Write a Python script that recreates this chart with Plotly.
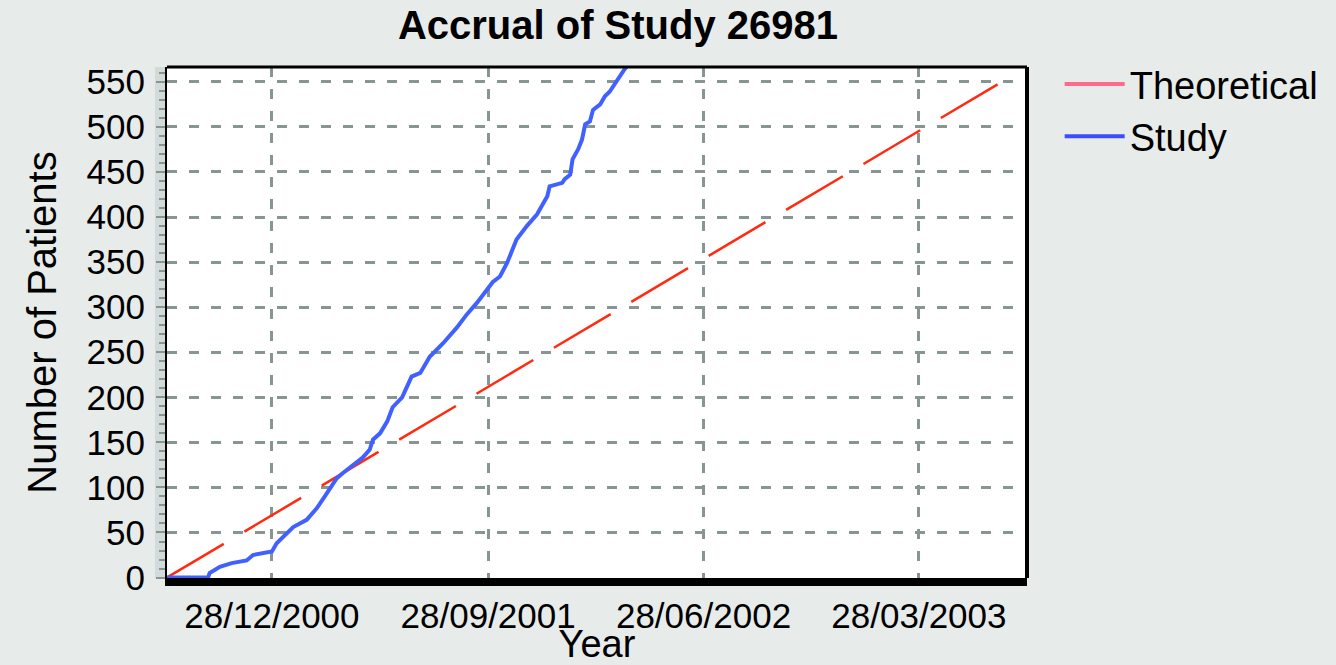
import plotly.graph_objects as go

# ---- data ----
theo_dates = ["2000-08-17", "2003-07-11"]
theo_values = [0, 550]

study_dates = [
    "2000-08-17", "2000-10-08", "2000-10-10", "2000-10-23", "2000-11-07", "2000-11-26",
    "2000-12-04", "2000-12-23", "2000-12-28", "2001-01-03", "2001-01-16", "2001-01-24",
    "2001-02-10", "2001-02-23", "2001-03-05", "2001-03-12", "2001-03-20", "2001-03-28",
    "2001-04-10", "2001-04-22", "2001-05-01", "2001-05-05", "2001-05-14", "2001-05-23",
    "2001-05-30", "2001-06-11", "2001-06-23", "2001-07-04", "2001-07-16", "2001-08-02",
    "2001-08-19", "2001-09-01", "2001-09-14", "2001-09-26", "2001-10-04", "2001-10-13",
    "2001-10-22", "2001-11-03", "2001-11-16", "2001-11-29", "2001-12-05", "2001-12-12",
    "2001-12-15", "2001-12-31", "2002-01-03", "2002-01-10", "2002-01-13", "2002-01-20",
    "2002-01-25", "2002-01-29", "2002-02-04", "2002-02-08", "2002-02-17", "2002-02-23",
    "2002-03-01", "2002-03-08", "2002-03-14", "2002-03-20", "2002-03-27",
]
study_values = [
    0, 0, 5, 12, 16, 19,
    25, 28, 29, 38, 49, 56,
    64, 77, 90, 100, 110, 116,
    125, 133, 142, 153, 160, 173,
    189, 200, 223, 227, 245, 260,
    277, 292, 305, 319, 328, 334,
    349, 375, 390, 403, 412, 423,
    434, 438, 442, 447, 464, 475,
    486, 503, 506, 519, 525, 534,
    539, 549, 556, 564, 572,
]

tick_dates = ["2000-12-28", "2001-09-28", "2002-06-28", "2003-03-28"]
tick_labels = ["28/12/2000", "28/09/2001", "28/06/2002", "28/03/2003"]
y_ticks = list(range(0, 551, 50))

# ---- style ----
FONT = "Liberation Sans, Arial, sans-serif"
BG = "#e7ebea"
GRID = "#879593"
RED = "#ff2a10"
BLUE = "#4060ff"

fig = go.Figure()
fig.add_trace(go.Scatter(
    x=theo_dates, y=theo_values, mode="lines", name="Theoretical",
    legendgroup="theo", showlegend=False,
    line=dict(color=RED, width=2.5, dash="66px,24px"),
))
fig.add_trace(go.Scatter(
    x=study_dates, y=study_values, mode="lines", name="Study",
    legendgroup="study", showlegend=False,
    line=dict(color=BLUE, width=4),
))
# legend entries (solid swatches as in the original legend)
fig.add_trace(go.Scatter(x=[None], y=[None], mode="lines", name="Theoretical",
                         legendgroup="theo", line=dict(color="#ff6a8a", width=4)))
fig.add_trace(go.Scatter(x=[None], y=[None], mode="lines", name="Study",
                         legendgroup="study", line=dict(color="#3a4cff", width=4)))

fig.update_layout(
    width=1336, height=665,
    margin=dict(l=167, r=309, t=67, b=87, autoexpand=False),
    paper_bgcolor=BG, plot_bgcolor="white",
    font=dict(family=FONT, color="black", size=35),
    title=dict(text="<b>Accrual of Study 26981</b>", font=dict(size=40, family=FONT),
               x=0.5244, xref="paper", xanchor="center", y=0.962, yref="container", yanchor="middle"),
    legend=dict(x=1.038, y=1.028, xanchor="left", yanchor="top", bgcolor="rgba(0,0,0,0)",
                font=dict(size=38, family=FONT), tracegroupgap=0, itemwidth=60),
    showlegend=True,
)
fig.update_xaxes(
    type="date", range=["2000-08-17", "2003-08-12"],
    tickvals=tick_dates, ticktext=tick_labels, tickfont=dict(size=35),
    showgrid=True, gridcolor=GRID, gridwidth=2.5, griddash="10px,12px",
    showline=True, linecolor="black", linewidth=8, ticks="", ticklabelstandoff=0,
    title=dict(text="Year", font=dict(size=38), standoff=0),
    zeroline=False, automargin=False,
)
fig.update_yaxes(
    range=[-0.5, 566.5], tickvals=y_ticks, tickfont=dict(size=35),
    showgrid=True, gridcolor=GRID, gridwidth=2.5, griddash="10px,12px",
    showline=True, linecolor="black", linewidth=2,
    ticks="outside", ticklen=9, tickwidth=2, tickcolor=GRID, ticklabelstandoff=4,
    minor=dict(dtick=10, ticks="outside", ticklen=6, tickwidth=2, tickcolor=GRID, showgrid=False),
    title=dict(text="Number of Patients", font=dict(size=40), standoff=18),
    zeroline=False, automargin=False,
)
# decoration: gray tick strip left of the plot and heavy frame on top / right
fig.add_shape(type="rect", xref="paper", yref="paper", x0=-0.014, x1=0, y0=0, y1=1,
              fillcolor="#d3dbda", line=dict(width=0), layer="below")
fig.add_shape(type="line", xref="paper", yref="paper", x0=0, x1=1, y0=1, y1=1,
              line=dict(color="black", width=3))
fig.add_shape(type="line", xref="paper", yref="paper", x0=1, x1=1, y0=0, y1=1,
              line=dict(color="black", width=4))

fig.write_html(
    "out.html",
    config={"displayModeBar": False},
    post_script=(
        "document.body.style.margin='0';"
        "document.body.style.overflow='hidden';"
        "document.body.style.background='" + BG + "';"
    ),
)
